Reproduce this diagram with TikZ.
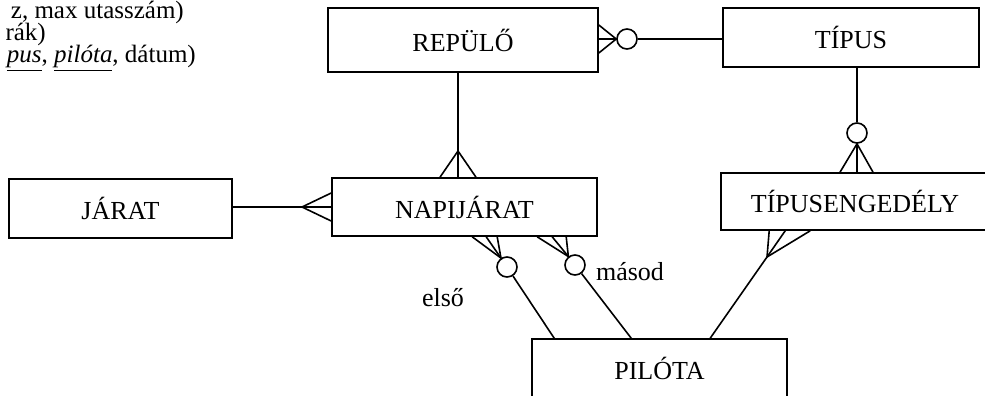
\documentclass[tikz,border=0pt]{standalone}
\usepackage{fontspec}
\setmainfont{Liberation Serif}
\usetikzlibrary{calc}
\newcommand\szoros{\lineskiplimit=-20pt\relax}
\begin{document}
\begin{tikzpicture}[x = .5pt, y = -.5pt, line width = .8pt,
    every node/.style = {font = \fontsize{13}{15}\selectfont},
    entity/.style = {draw, inner sep = 0pt},
    kor/.style = {draw, circle, inner sep = 0pt, minimum size = 10pt}]
  \useasboundingbox (0,0) rectangle (985,396);
  % relaciok (levagva)
  \node [anchor = base west, inner sep = 0pt, align = left,
         font = \fontsize{12.5}{11}\selectfont\szoros] (relaciok) at (0,62)
    {\hbox to 91.5pt{\hss z, max utasszám)}\\
     \hbox to 22.5pt{\hss rák)}\\
     \hbox to 97.5pt{\hss\underline{\textit{pus}}, \underline{\textit{pilóta}}, dátum)}};
  % egyedek
  \node [entity, minimum width = 135pt, minimum height = 32pt] (repulo) at (463,40) {REPÜLŐ};
  \node [entity, minimum width = 128pt, minimum height = 29.5pt] (tipus) at (851,37.5) {TÍPUS};
  \node [entity, minimum width = 111.5pt, minimum height = 29.5pt] (jarat) at (120.5,208.5) {JÁRAT};
  \node [entity, minimum width = 132.5pt, minimum height = 29pt] (napi) at (464.5,207) {NAPIJÁRAT};
  \node [entity, minimum width = 134pt, minimum height = 28.5pt] (tipeng) at (855,201.5) {TÍPUSENGEDÉLY};
  \node [entity, minimum width = 127.5pt, minimum height = 29pt] (pilota) at (659.5,368) {PILÓTA};
  % repulo -- tipus
  \node [kor] (k1) at (627,39) {};
  \draw (k1) -- (k1 -| tipus.west);
  \draw ($(k1.west -| repulo.east)+(0,-14)$) -- (k1.west) -- ($(k1.west -| repulo.east)+(0,14)$);
  \draw (k1.west -| repulo.east) -- (k1.west);
  % repulo -- napijarat
  \coordinate (c2) at (458,151);
  \draw (c2 |- repulo.south) -- (c2 |- napi.north);
  \draw ($(c2 |- napi.north)+(-18,0)$) -- (c2) -- ($(c2 |- napi.north)+(18,0)$);
  % jarat -- napijarat
  \coordinate (c3) at (302,207);
  \draw (jarat.east |- c3) -- (c3 -| napi.west);
  \draw ($(c3 -| napi.west)+(0,-14)$) -- (c3) -- ($(c3 -| napi.west)+(0,14)$);
  % tipus -- tipusengedely
  \node [kor] (k4) at (857,133) {};
  \draw (k4 |- tipus.south) -- (k4);
  \draw ($(k4 |- tipeng.north)+(-17,0)$) -- (k4.south) -- ($(k4 |- tipeng.north)+(16,0)$);
  \draw (k4.south) -- (k4 |- tipeng.north);
  % tipusengedely -- pilota
  \coordinate (c5) at (767,257);
  \draw (c5) -- ($(pilota.north west)+(179,0)$);
  \draw ($(tipeng.south west)+(49,0)$) -- (c5) -- ($(tipeng.south west)+(90,0)$);
  \draw ($(tipeng.south west)+(65,0)$) -- (c5);
  % napijarat -- pilota (elso)
  \node [kor] (k6) at (507,267) {};
  \draw (k6) -- ($(pilota.north west)+(23,0)$);
  \draw ($(napi.south west)+(141,0)$) -- (k6.124) -- ($(napi.south west)+(166,0)$);
  \draw ($(napi.south west)+(155,0)$) -- (k6.124);
  \node (elso) at (443,298) {első};
  % napijarat -- pilota (masod)
  \node [kor] (k7) at (575,265) {};
  \draw (k7) -- ($(pilota.north west)+(100,0)$);
  \draw ($(napi.south west)+(206,0)$) -- (k7.128) -- ($(napi.south west)+(235,0)$);
  \draw ($(napi.south west)+(221,0)$) -- (k7.128);
  \node (masod) at (630,272) {másod};
\end{tikzpicture}
\end{document}
